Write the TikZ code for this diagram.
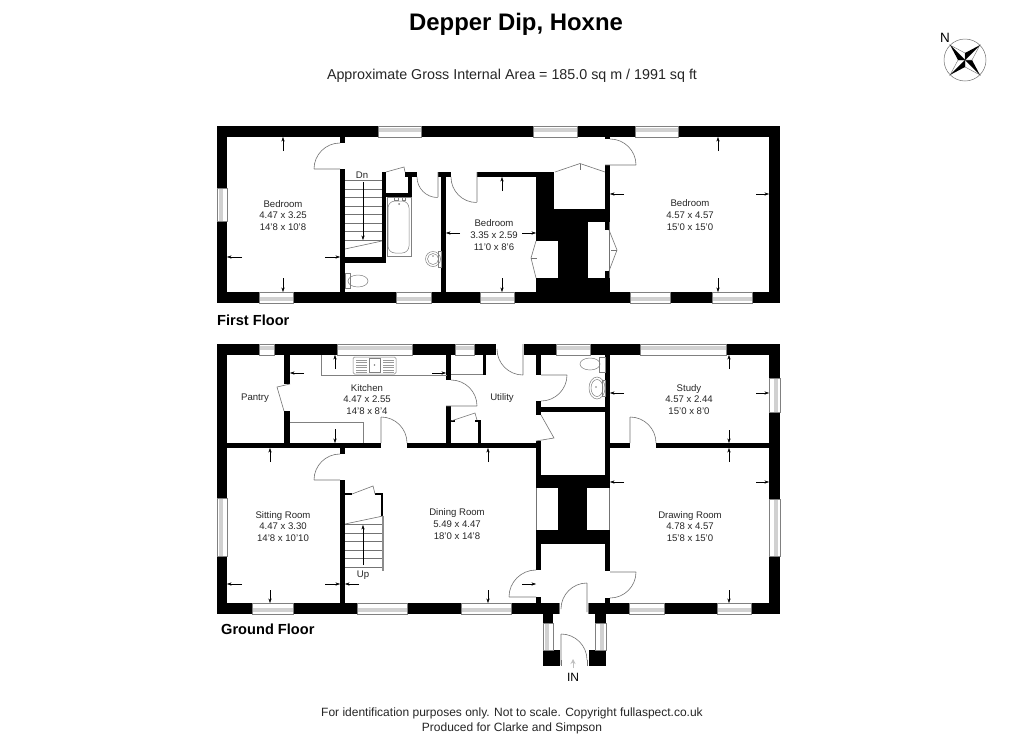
\documentclass[tikz,border=0pt]{standalone}
\usepackage{fontspec}
\setmainfont{Liberation Sans}
\usetikzlibrary{arrows.meta}

\tikzset{
  wall/.style={fill=black},
  thinline/.style={draw=black!55, line width=0.6pt},
  fitting/.style={draw=black!50, line width=0.5pt},
  dimarrow/.style={draw=black, line width=0.35pt, -{Stealth[length=4.5pt,width=3.2pt]}},
  roomlabel/.style={font=\fontsize{9.6}{11.6}\selectfont, align=center, text=black!85, inner sep=0pt},
  floorlabel/.style={font=\fontsize{14.6}{16}\selectfont\bfseries, anchor=west, inner sep=0pt}
}

% windows: along x from #1 to #2, wall side #3 (room) to #4 (outside)
\newcommand{\hwin}[4]{
  \fill[white] (#1,#3) rectangle (#2,#4);
  \pgfmathsetmacro{\wa}{#3+0.45*(#4-#3)}
  \pgfmathsetmacro{\wb}{#3+0.85*(#4-#3)}
  \fill[black!18] (#1,\wa) rectangle (#2,\wb);
  \draw[fitting] (#1,#3) rectangle (#2,#4);
}
\newcommand{\vwin}[4]{
  \fill[white] (#3,#1) rectangle (#4,#2);
  \pgfmathsetmacro{\wa}{#3+0.45*(#4-#3)}
  \pgfmathsetmacro{\wb}{#3+0.85*(#4-#3)}
  \fill[black!18] (\wa,#1) rectangle (\wb,#2);
  \draw[fitting] (#3,#1) rectangle (#4,#2);
}

\begin{document}
\begin{tikzpicture}[x=1pt, y=-1pt]
  \useasboundingbox (0,0) rectangle (1024,750);
  \fill[white] (0,0) rectangle (1024,750);

  % titles
  \node[font=\fontsize{23.9}{26}\selectfont\bfseries, inner sep=0pt] (title) at (516,24) {Depper Dip, Hoxne};
  \node[font=\fontsize{14.3}{16}\selectfont, inner sep=0pt, text=black!85] (area) at (512,76) {Approximate Gross Internal Area = 185.0 sq m / 1991 sq ft};
  \node[floorlabel] (firstfloor) at (217,320) {First Floor};
  \node[floorlabel] (groundfloor) at (221,629) {Ground Floor};
  \node[font=\fontsize{12}{15}\selectfont, align=center, inner sep=0pt, text=black!85] (footer) at (512,720.5)
    {For identification purposes only. Not to scale. Copyright fullaspect.co.uk\\Produced for Clarke and Simpson};

  % first floor walls
  \foreach \xa/\ya/\xb/\yb in {217/126/780/137, 217/292/780/303, 217/126/227/303, 769/126/780/303,
    340/137/345/143, 340/169/345/292, 382/172/386/263, 345/257/386/263,
    386/193/412/197, 408/172/412/197, 405/172/417/177,
    438/172/451/177, 441/172/446/292, 477/172/536/177,
    536/172/554/241, 554/209/610/222, 605/165/610/209, 605/137/610/139,
    536/222/588/241, 558/241/588/278, 536/278/610/292, 605/222/610/230, 605/271/610/278}
    \fill[wall] (\xa,\ya) rectangle (\xb,\yb);

  % first floor windows
  \foreach \xa/\xb in {378/421, 533/577, 635/678}
    \hwin{\xa}{\xb}{137}{126};
  \foreach \xa/\xb in {259/293, 396/431, 480/514, 630/670, 712/752}
    \hwin{\xa}{\xb}{292}{303};
  \vwin{188}{221}{227}{217}

  % first floor doors
  \draw[thinline] (314,169) -- (340,169) (340,143) arc[start angle=-90, end angle=-180, radius=26];
  \draw[thinline] (438,172) -- (438,197) (417,177) arc[start angle=-180, end angle=-270, radius=20.5];
  \draw[thinline] (477,172) -- (477,202) (451,177) arc[start angle=-180, end angle=-270, radius=25.5];
  \draw[thinline] (605,165) -- (636,165) (610,139) arc[start angle=-90, end angle=0, radius=26];
  \draw[thinline] (386,172) -- (404,167) -- (405,172);
  \draw[thinline] (555,172) -- (580,163.5) -- (605,172);
  \draw[thinline] (580,163.5) -- (580,170);
  \draw[thinline] (609,230) -- (617,250) -- (609,271);
  \draw[thinline] (536,241) -- (531,258) -- (536,278);
  \draw[thinline] (609.5,222) -- (609.5,278);
  \draw[thinline] (531,258) -- (537,258) (617,250) -- (611,250);

  % first floor stairs
  \foreach \yy in {180,189,197,206,214,223,231,240}
    \draw[thinline] (345,\yy) -- (382,\yy);
  \draw[thinline] (345,249) -- (382,241);
  \draw[dimarrow] (363,182) -- (363,240);
  \node[roomlabel] (dn) at (362,175) {Dn};

  % first floor fittings
  \draw[fitting] (387,197) rectangle (411,256);
  \draw[fitting, rounded corners=7pt] (388,201) rectangle (409,253);
  \draw[fitting] (394,197) rectangle (398,200) (402,197) rectangle (405,200);
  \fill[black!50] (399,204) circle (1pt);
  \draw[fitting] (433,259) circle (7.5);
  \draw[fitting] (433,259) circle (5.5);
  \draw[fitting] (438,251) rectangle (441,267);
  \fill[black!50] (433,256) circle (0.8pt);
  \draw[fitting] (345,273) rectangle (350,288);
  \draw[fitting] (358,281) ellipse (10 and 6);

  % first floor dimension arrows
  \foreach \xa/\ya/\xb/\yb in {283/151/283/137, 283/278/283/292, 242/257/227/257, 325/257/340/257,
    502/191/502/177, 502/278/502/292, 460/233/446/233, 522/233/536/233,
    718/151/718/137, 718/278/718/292, 624/194/610/194, 756/194/769/194}
    \draw[dimarrow] (\xa,\ya) -- (\xb,\yb);

  % first floor rooms
  \node[roomlabel] (bedroomone) at (283,215.5) {Bedroom\\4.47 x 3.25\\14'8 x 10'8};
  \node[roomlabel] (bedroomtwo) at (494,235) {Bedroom\\3.35 x 2.59\\11'0 x 8'6};
  \node[roomlabel] (bedroomthree) at (690,215) {Bedroom\\4.57 x 4.57\\15'0 x 15'0};

  % ground floor walls
  \foreach \xa/\ya/\xb/\yb in {217/344/496/355, 524/344/780/355, 217/603/559/614, 588/603/780/614,
    217/344/227/614, 769/344/780/614,
    284/355/290/384, 284/411/290/448, 227/443/381/448, 407/443/536/448,
    446/355/451/380, 446/406/451/443, 483/355/486/375,
    478/420/481/443, 451/420/455/422, 475/420/481/422,
    536/355/541/375, 536/401/541/415, 541/407/605/412, 605/355/610/475,
    610/443/630/448, 656/443/769/448, 536/441/541/477,
    536/475/610/488, 558/488/587/530, 536/530/610/544,
    536/544/541/570, 605/544/610/571, 536/597/541/603, 605/598/610/603,
    340/448/345/454, 340/480/345/603,
    345/493/352/495, 375/493/383/495, 381/493/383/516,
    543/614/553/623, 595/614/606/623, 543/650/560/666, 589/650/606/666}
    \fill[wall] (\xa,\ya) rectangle (\xb,\yb);

  % ground floor windows
  \foreach \xa/\xb in {259/274, 337/412, 455/474, 556/590, 640/726}
    \hwin{\xa}{\xb}{355}{344};
  \foreach \xa/\xb in {252/293, 357/407, 461/511, 629/664, 717/751}
    \hwin{\xa}{\xb}{603}{614};
  \vwin{498}{556}{227}{217}
  \vwin{378}{412}{769}{780}
  \vwin{499}{556}{769}{780}
  \vwin{623}{650}{553}{543}
  \vwin{623}{650}{595}{606}

  % ground floor doors
  \draw[thinline] (290,384) -- (277,387) -- (284,411);
  \draw[thinline] (381,417) -- (381,443) (381,417) arc[start angle=-90, end angle=0, radius=26];
  \draw[thinline] (446,406) -- (477,406) (451,380) arc[start angle=-90, end angle=0, radius=26];
  \draw[thinline] (523,344) -- (523,375) (497,349) arc[start angle=-180, end angle=-270, radius=26];
  \draw[thinline] (541,375) -- (567,375) (567,375) arc[start angle=0, end angle=90, radius=26];
  \draw[thinline] (630,417) -- (630,443) (630,417) arc[start angle=-90, end angle=0, radius=26];
  \draw[thinline] (541,415) -- (554,438) -- (536,441);
  \draw[thinline] (314,480) -- (340,480) (340,454) arc[start angle=-90, end angle=-180, radius=26];
  \draw[thinline] (451,421) -- (475,413) -- (477,420);
  \draw[thinline] (352,494) -- (373,486) -- (375,494);
  \draw[thinline] (509,597) -- (536,597) (536,570) arc[start angle=-90, end angle=-180, radius=27];
  \draw[thinline] (610,572) -- (636,572) (636,572) arc[start angle=0, end angle=90, radius=26];
  \draw[thinline] (587,583) -- (587,612) (587,583) arc[start angle=-90, end angle=-180, radius=26];
  \draw[thinline] (561,634) -- (561,665) (561,634) arc[start angle=-90, end angle=0, radius=26];
  \draw[thinline] (536.5,488) -- (536.5,530) (609.5,488) -- (609.5,530);
  \draw[thinline] (559,603) -- (559,614) (588,603) -- (588,614);
  \draw[thinline] (587,660) -- (587,666) (561,660) -- (561,666);

  % ground floor stairs
  \foreach \yy in {524,533,541,550,558,567}
    \draw[thinline] (345,\yy) -- (383,\yy);
  \draw[thinline] (345,524) -- (383,516);
  \draw[draw=black!45, line width=1.2pt] (383,516) -- (383,571);
  \draw[dimarrow] (363,565) -- (363,525);
  \node[roomlabel] (up) at (363,575) {Up};

  % ground floor fittings
  \draw[fitting] (321,355) -- (321,375) -- (447,375);
  \draw[fitting] (290,422) -- (363,422) -- (363,443);
  \draw[fitting, rounded corners=1.5pt] (353,357) rectangle (396,374);
  \draw[fitting] (369,358) rectangle (380,372);
  \fill[black!50] (374.5,365) circle (0.8pt);
  \foreach \yy in {360,362.5,...,372.5}
    \draw[black!40, line width=0.35pt] (356,\yy) -- (367,\yy) (383,\yy) -- (394,\yy);
  \draw[fitting] (451,374.5) -- (483,374.5);
  \draw[fitting] (599,357) rectangle (605,372);
  \draw[fitting] (590,364) ellipse (10 and 6);
  \draw[fitting] (597,388) ellipse (8 and 11);
  \draw[fitting] (597,388) ellipse (6 and 8.5);
  \draw[fitting] (602,380) rectangle (605,396);
  \fill[black!50] (596,387) circle (0.8pt);

  % ground floor dimension arrows
  \foreach \xa/\ya/\xb/\yb in {335/369/335/355, 335/429/335/443, 304/373/290/373, 432/373/446/373,
    270/462/270/448, 270/590/270/603, 242/584/227/584, 325/584/340/584,
    488/462/488/448, 488/590/488/603, 359/584/345/584, 522/584/536/584,
    729/369/729/355, 729/430/729/443, 624/393/610/393, 756/393/769/393,
    729/462/729/448, 729/590/729/603, 624/482/610/482, 756/482/769/482}
    \draw[dimarrow] (\xa,\ya) -- (\xb,\yb);
  \draw[black!25, line width=0.8pt, -{Stealth[length=5pt,width=5pt]}] (573,668) -- (573,659);
  \node[font=\fontsize{12}{14}\selectfont, inner sep=0pt] (in) at (573,677) {IN};

  % ground floor rooms
  \node[roomlabel] (pantry) at (255,398) {Pantry};
  \node[roomlabel] (kitchen) at (367,399.5) {Kitchen\\4.47 x 2.55\\14'8 x 8'4};
  \node[roomlabel] (utility) at (502,398) {Utility};
  \node[roomlabel] (study) at (689,399.5) {Study\\4.57 x 2.44\\15'0 x 8'0};
  \node[roomlabel] (sitting) at (283,526.5) {Sitting Room\\4.47 x 3.30\\14'8 x 10'10};
  \node[roomlabel] (dining) at (457,524) {Dining Room\\5.49 x 4.47\\18'0 x 14'8};
  \node[roomlabel] (drawing) at (690,526.5) {Drawing Room\\4.78 x 4.57\\15'8 x 15'0};

  % compass
  \node[font=\fontsize{13.5}{15}\selectfont, inner sep=0pt] (north) at (945,38) {N};
  \draw[draw=black!55, line width=0.5pt] (965,60) circle (21);
  \foreach \ang in {45,135,225,315} {
    \draw[black!60, line width=0.35pt, fill=white] (965,60) -- +(\ang:21) -- +(\ang+45:7) -- cycle;
    \fill[black] (965,60) -- +(\ang:21) -- +(\ang-45:7) -- cycle;
  }
\end{tikzpicture}
\end{document}
